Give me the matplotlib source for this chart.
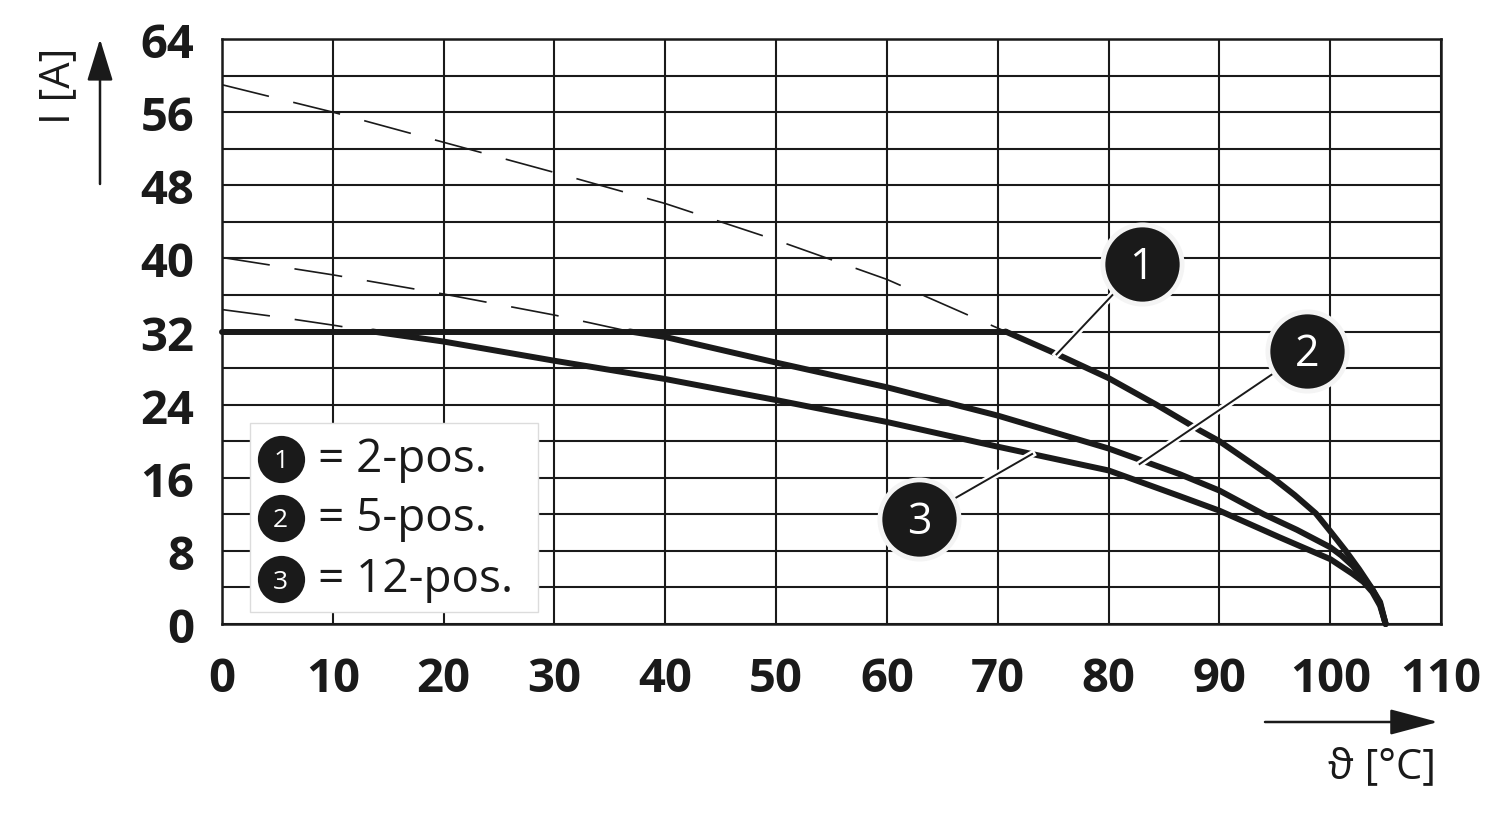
import matplotlib
matplotlib.use('Agg')
import matplotlib.pyplot as plt
import matplotlib.patheffects as pe
from matplotlib.patches import Rectangle

plt.rcParams['font.family'] = ['Open Sans', 'DejaVu Sans']

INK = '#1a1a1a'

# horizontal limit at 32 A
limit_t = [0, 70.7]
limit_i = [32, 32]

# curve 1 (2-pos.)
c1_dash_t = [0, 10, 20, 30, 40, 50, 60, 70.7]
c1_dash_i = [59.0, 56.0, 52.7, 49.4, 46.0, 42.0, 37.7, 32.0]
c1_t = [70.7, 75.2, 80, 84.3, 88.2, 90, 92.4, 94.8, 96.8, 98.7, 100.1, 101.4, 102.6, 103.7, 104.5, 105]
c1_i = [32.0, 29.6, 26.9, 24.0, 21.2, 20.0, 18.0, 16.0, 14.1, 12.1, 10.0, 8.0, 6.0, 4.0, 2.4, 0]

# curve 2 (5-pos.)
c2_dash_t = [0, 10, 20, 30, 36.8]
c2_dash_i = [40.1, 38.2, 36.1, 33.8, 32.0]
c2_t = [36.8, 40, 50, 60, 70, 80, 86.4, 90, 94, 97, 100, 101, 102, 103, 103.8, 104.5, 105]
c2_i = [32.0, 31.4, 28.6, 25.9, 22.8, 19.2, 16.4, 14.6, 12.0, 10.3, 8.4, 7.5, 6.4, 5.0, 3.8, 2.2, 0]

# curve 3 (12-pos.)
c3_dash_t = [0, 5, 10, 13.6]
c3_dash_i = [34.4, 33.6, 32.7, 32.0]
c3_t = [13.6, 20, 30, 40, 50, 60, 70, 80, 86.4, 90, 95.4, 100, 102, 103, 103.8, 104.5, 105]
c3_i = [32.0, 30.9, 28.8, 26.8, 24.5, 22.1, 19.4, 16.8, 14.0, 12.4, 9.5, 7.1, 5.5, 4.6, 3.5, 2.0, 0]

x_ticks = [0, 10, 20, 30, 40, 50, 60, 70, 80, 90, 100, 110]
y_ticks = [0, 8, 16, 24, 32, 40, 48, 56, 64]
legend_labels = ['= 2-pos.', '= 5-pos.', '= 12-pos.']
callout_labels = ['1', '2', '3']

fig = plt.figure(figsize=(15, 8.2), dpi=100)
ax = fig.add_axes([0.148, 0.2378, 0.8127, 0.7134])
ax.set_xlim(0, 110)
ax.set_ylim(0, 64)
ax.set_xticks(x_ticks)
ax.set_yticks(y_ticks)
ax.set_yticks(range(0, 65, 4), minor=True)
ax.grid(which='both', color=INK, lw=1.5, zorder=0)
ax.tick_params(which='both', length=0)
ax.tick_params(axis='x', pad=22, labelsize=34, labelcolor=INK)
ax.tick_params(axis='y', pad=20, labelsize=34, labelcolor=INK)
for lab in ax.get_xticklabels() + ax.get_yticklabels():
    lab.set_fontweight('bold')
for sp in ax.spines.values():
    sp.set_color(INK)
    sp.set_linewidth(1.8)

dash_kw = dict(color=INK, lw=1.2, dashes=(29, 15), zorder=3)
ax.plot(c1_dash_t, c1_dash_i, **dash_kw)
ax.plot(c2_dash_t, c2_dash_i, **dash_kw)
ax.plot(c3_dash_t, c3_dash_i, **dash_kw)

solid_kw = dict(color=INK, lw=4.3, zorder=4, solid_capstyle='round', solid_joinstyle='round')
ax.plot(limit_t, limit_i, clip_on=False, **solid_kw)
ax.plot(c1_t, c1_i, clip_on=False, **solid_kw)
ax.plot(c2_t, c2_i, clip_on=False, **solid_kw)
ax.plot(c3_t, c3_i, clip_on=False, **solid_kw)

# callouts: circle centre and point on curve
callout_center = [(83.0, 39.4), (97.9, 29.9), (62.9, 11.5)]
callout_tip = [(75.3, 29.5), (82.8, 17.5), (73.1, 18.6)]
halo = [pe.withStroke(linewidth=5, foreground='white')]
for lab, (cx, cy), (tx, ty) in zip(callout_labels, callout_center, callout_tip):
    ax.plot([cx, tx], [cy, ty], color=INK, lw=1.4, zorder=5, path_effects=halo)
    ax.plot(cx, cy, 'o', ms=57, mfc=INK, mec='#f4f4f4', mew=3.5, zorder=6)
    ax.text(cx, cy - 0.3, lab, color='white', fontsize=31, ha='center', va='center', zorder=7)

# legend box
ax.add_patch(Rectangle((2.5, 1.3), 26.0, 20.7, facecolor='white', edgecolor='#dcdcdc',
                       lw=1, zorder=2))
legend_y = [18.1, 11.6, 4.9]
for lab, num, ly in zip(legend_labels, callout_labels, legend_y):
    ax.plot(5.3, ly, 'o', ms=34, mfc=INK, mec='none', zorder=6)
    ax.text(5.3, ly - 0.2, num, color='white', fontsize=19, ha='center', va='center', zorder=7)
    ax.text(8.7, ly, lab, color=INK, fontsize=33, ha='left', va='center', zorder=7)

# axis arrows and labels
ax.annotate('', xy=(100, 780), xytext=(100, 635), xycoords='figure pixels',
            textcoords='figure pixels',
            arrowprops=dict(arrowstyle='-|>,head_length=26,head_width=8', mutation_scale=1,
                            lw=1.8, color=INK, shrinkA=0, shrinkB=0))
ax.annotate('', xy=(1438, 97), xytext=(1265, 97), xycoords='figure pixels',
            textcoords='figure pixels',
            arrowprops=dict(arrowstyle='-|>,head_length=30,head_width=8', mutation_scale=1,
                            lw=1.8, color=INK, shrinkA=0, shrinkB=0))
fig.text(58 / 1500, 1 - 86 / 820, 'I [A]', rotation=90, fontsize=30, color=INK,
         ha='center', va='center')
fig.text(1436 / 1500, 1 - 767 / 820, 'ϑ [°C]', fontsize=30, color=INK,
         ha='right', va='center')

fig.savefig('out.png', dpi=100, facecolor='white')
